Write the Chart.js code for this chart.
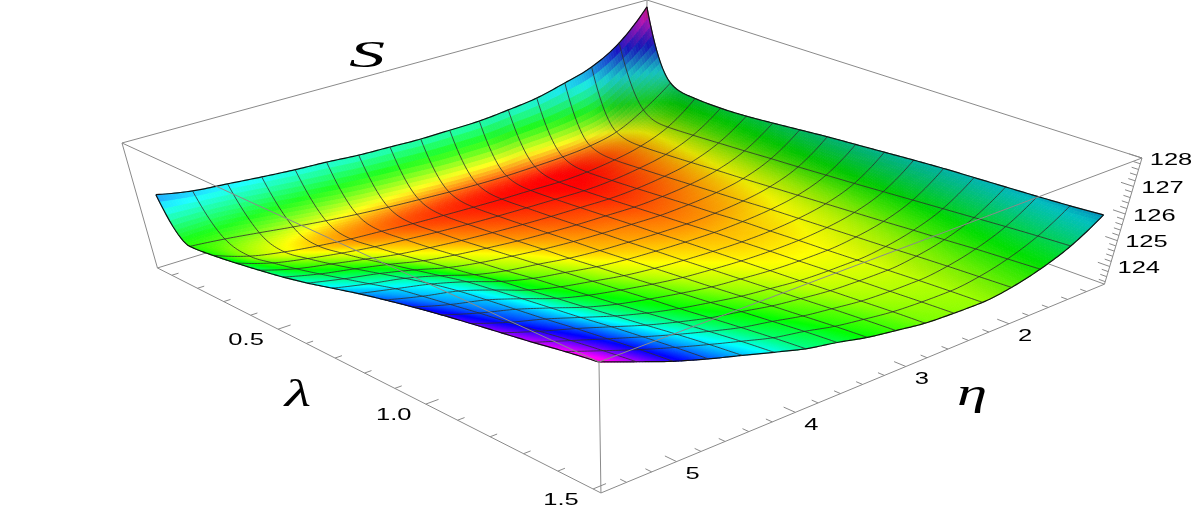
<!DOCTYPE html>
<html>
<head>
<meta charset="utf-8">
<title>S(lambda, eta)</title>
<script src="https://cdn.jsdelivr.net/npm/chart.js@4"></script>
<style>
  html, body { margin: 0; padding: 0; background: #fff; overflow: hidden; }
  canvas { display: block; }
</style>
</head>
<body>
<canvas id="surfaceChart" width="1196" height="510"></canvas>
<script>
// Surface: one row per eta value, one column per lambda value
const lambdaValues = [0.043, 0.132, 0.221, 0.311, 0.400, 0.489, 0.578, 0.667, 0.757, 0.846, 0.935, 1.024, 1.113, 1.203, 1.292, 1.381, 1.470];
const etaValues = [1.01, 1.29, 1.57, 1.84, 2.12, 2.40, 2.68, 2.96, 3.23, 3.51, 3.79, 4.07, 4.34, 4.62, 4.90, 5.18, 5.46];
const sValues = [
    [127.74, 125.10, 124.82, 124.79, 124.83, 124.92, 125.02, 125.12, 125.20, 125.28, 125.36, 125.43, 125.48, 125.53, 125.58, 125.64, 125.72],
    [126.66, 124.33, 123.99, 124.03, 124.09, 124.15, 124.22, 124.28, 124.35, 124.42, 124.50, 124.58, 124.66, 124.74, 124.82, 124.89, 124.95],
    [126.03, 123.76, 123.55, 123.59, 123.65, 123.72, 123.78, 123.85, 123.92, 123.99, 124.06, 124.13, 124.21, 124.28, 124.36, 124.42, 124.48],
    [125.71, 123.52, 123.32, 123.37, 123.43, 123.50, 123.57, 123.64, 123.72, 123.78, 123.84, 123.90, 123.96, 124.03, 124.09, 124.14, 124.19],
    [125.44, 123.42, 123.18, 123.23, 123.30, 123.38, 123.46, 123.53, 123.62, 123.67, 123.73, 123.78, 123.84, 123.90, 123.96, 124.01, 124.05],
    [125.30, 123.38, 123.13, 123.18, 123.25, 123.33, 123.41, 123.49, 123.58, 123.64, 123.71, 123.77, 123.84, 123.91, 123.97, 124.03, 124.08],
    [125.20, 123.36, 123.16, 123.21, 123.28, 123.36, 123.44, 123.51, 123.60, 123.67, 123.74, 123.81, 123.88, 123.96, 124.03, 124.10, 124.15],
    [125.18, 123.38, 123.18, 123.24, 123.31, 123.39, 123.48, 123.56, 123.65, 123.73, 123.82, 123.91, 124.00, 124.09, 124.18, 124.26, 124.33],
    [125.17, 123.43, 123.22, 123.28, 123.36, 123.45, 123.54, 123.62, 123.72, 123.82, 123.92, 124.02, 124.13, 124.24, 124.34, 124.44, 124.52],
    [125.21, 123.50, 123.27, 123.34, 123.43, 123.53, 123.64, 123.73, 123.85, 123.96, 124.09, 124.21, 124.33, 124.47, 124.59, 124.71, 124.80],
    [125.25, 123.58, 123.33, 123.42, 123.52, 123.65, 123.78, 123.91, 124.05, 124.17, 124.30, 124.43, 124.55, 124.69, 124.82, 124.94, 125.04],
    [125.34, 123.68, 123.42, 123.52, 123.64, 123.79, 123.94, 124.08, 124.25, 124.39, 124.54, 124.68, 124.83, 124.99, 125.14, 125.28, 125.39],
    [125.40, 123.80, 123.50, 123.63, 123.78, 123.97, 124.16, 124.34, 124.55, 124.69, 124.85, 125.00, 125.16, 125.32, 125.48, 125.62, 125.74],
    [125.49, 123.95, 123.63, 123.79, 124.00, 124.25, 124.49, 124.73, 124.97, 125.13, 125.28, 125.42, 125.56, 125.72, 125.86, 125.99, 126.10],
    [125.60, 124.12, 123.80, 123.99, 124.23, 124.50, 124.78, 125.06, 125.32, 125.53, 125.68, 125.82, 125.96, 126.12, 126.26, 126.39, 126.50],
    [125.71, 124.28, 124.05, 124.24, 124.47, 124.73, 125.01, 125.29, 125.58, 125.78, 125.96, 126.14, 126.30, 126.49, 126.67, 126.83, 126.97],
    [125.95, 124.40, 124.50, 124.66, 124.84, 125.04, 125.28, 125.56, 125.84, 126.09, 126.32, 126.53, 126.72, 126.90, 127.08, 127.28, 127.45]
];

const lambdaTicks = [0.5, 1.0, 1.5];
const etaTicks = [2, 3, 4, 5];
const sTicks = [124, 125, 126, 127, 128];
const lambdaMinorTicks = [0.1, 0.2, 0.3, 0.4, 0.6, 0.7, 0.8, 0.9, 1.1, 1.2, 1.3, 1.4];
const etaMinorTicks = [1.2, 1.4, 1.6, 1.8, 2.2, 2.4, 2.6, 2.8, 3.2, 3.4, 3.6, 3.8, 4.2, 4.4, 4.6, 4.8, 5.2, 5.4];
const sMinorTicks = [123.4, 123.6, 123.8, 124.2, 124.4, 124.6, 124.8, 125.2, 125.4, 125.6, 125.8, 126.2, 126.4, 126.6, 126.8, 127.2, 127.4, 127.6, 127.8];

// Box limits
const lambdaRange = [0.043, 1.522];
const etaRange = [1.01, 5.6];
const sRange = [123.3, 128];

// Hue follows the height of the surface
const hueHeights = [123.15, 123.77, 124.24, 125.18, 125.84, 127.44, 127.74];
const hueLevels = [0, 0.17, 0.28, 0.45, 0.56, 0.86, 0.95];

// Perspective camera, fitted to the corners of the box
const cameraX = [320.5, -541.62, 41, 647];
const cameraY = [133.86, 123.52, 125.6, 0];
const cameraW = [-0.1528, -0.1362, 0.0659, 1];

function project(lambda, eta, s) {
    const u = (lambda - lambdaRange[0]) / (lambdaRange[1] - lambdaRange[0]);
    const v = (eta - etaRange[0]) / (etaRange[1] - etaRange[0]);
    const t = (sRange[1] - s) / (sRange[1] - sRange[0]);
    const dot = (c) => c[0] * u + c[1] * v + c[2] * t + c[3];
    const w = dot(cameraW);
    return { x: dot(cameraX) / w, y: dot(cameraY) / w };
}

// Smooth curve between grid values, used only to draw the cells and mesh lines without corners
const SUB = 12;
function upsample(values) {
    const n = values.length - 1;
    const d = [];
    for (let k = 0; k < n; k++) d.push(values[k + 1] - values[k]);
    const m = new Array(n + 1).fill(0);
    for (let k = 1; k < n; k++) {
        if (d[k - 1] * d[k] > 0) {
            const limit = 3 * Math.min(Math.abs(d[k - 1]), Math.abs(d[k]));
            const avg = (d[k - 1] + d[k]) / 2;
            m[k] = Math.sign(avg) * Math.min(Math.abs(avg), limit);
        }
    }
    m[0] = 2 * d[0] - m[1];
    if (m[0] * d[0] < 0) m[0] = 0;
    m[n] = 2 * d[n - 1] - m[n - 1];
    if (m[n] * d[n - 1] < 0) m[n] = 0;
    const out = [];
    for (let k = 0; k < n; k++) {
        for (let q = 0; q < SUB; q++) {
            const a = q / SUB;
            const a2 = a * a, a3 = a2 * a;
            out.push((2 * a3 - 3 * a2 + 1) * values[k] + (a3 - 2 * a2 + a) * m[k] + (-2 * a3 + 3 * a2) * values[k + 1] + (a3 - a2) * m[k + 1]);
        }
    }
    out.push(values[n]);
    return out;
}

function linearUpsample(values) {
    const out = [];
    for (let k = 0; k < values.length - 1; k++) {
        for (let q = 0; q < SUB; q++) out.push(values[k] + (values[k + 1] - values[k]) * q / SUB);
    }
    out.push(values[values.length - 1]);
    return out;
}

const fineLambda = linearUpsample(lambdaValues);
const fineEta = linearUpsample(etaValues);

function buildFineGrid() {
    const rows = sValues.map(upsample);
    const grid = fineEta.map(() => []);
    for (let i = 0; i < fineLambda.length; i++) {
        const col = upsample(rows.map((r) => r[i]));
        col.forEach((s, j) => { grid[j][i] = s; });
    }
    return grid;
}
const fineS = buildFineGrid();

function hueFor(s) {
    if (s <= hueHeights[0]) return hueLevels[0];
    for (let k = 1; k < hueHeights.length; k++) {
        if (s <= hueHeights[k]) {
            const a = (s - hueHeights[k - 1]) / (hueHeights[k] - hueHeights[k - 1]);
            return hueLevels[k - 1] + a * (hueLevels[k] - hueLevels[k - 1]);
        }
    }
    return hueLevels[hueLevels.length - 1];
}

function hsvColor(h, sat, val) {
    const f = (n) => {
        const k = (n + h * 6) % 6;
        return Math.round(255 * val * (1 - sat * Math.max(0, Math.min(k, 4 - k, 1))));
    };
    return `rgb(${f(5)},${f(3)},${f(1)})`;
}

// Light: slopes falling along eta look darker, slopes falling along lambda look paler
function cellColor(i, j) {
    const s = (fineS[j][i] + fineS[j + 1][i] + fineS[j][i + 1] + fineS[j + 1][i + 1]) / 4;
    const slopeEta = ((fineS[j + 1][i] + fineS[j + 1][i + 1]) - (fineS[j][i] + fineS[j][i + 1])) / 2 * SUB;
    const slopeLambda = ((fineS[j][i + 1] + fineS[j + 1][i + 1]) - (fineS[j][i] + fineS[j + 1][i])) / 2 * SUB;
    const val = 1 - 0.3 * Math.min(1, Math.max(0, -slopeEta));
    const sat = 1 - 0.12 * Math.min(1, Math.max(0, -slopeLambda / 1.2));
    return hsvColor(hueFor(s), sat, val);
}

// Cells go under the mesh, over the hidden back edges of the box
const surfacePlugin = {
    id: 'surface',
    beforeDatasetDraw(chart, args) {
        if (chart.data.datasets[args.index].label !== 'surfaceStart') return;
        const ctx = chart.ctx;
        const xs = chart.scales.x;
        const ys = chart.scales.y;
        const pixel = (i, j) => {
            const p = project(fineLambda[i], fineEta[j], fineS[j][i]);
            return [xs.getPixelForValue(p.x), ys.getPixelForValue(p.y)];
        };
        ctx.save();
        ctx.lineWidth = 0.8;
        for (let i = 0; i < fineLambda.length - 1; i++) {
            for (let j = 0; j < fineEta.length - 1; j++) {
                const color = cellColor(i, j);
                const a = pixel(i, j), b = pixel(i + 1, j), c = pixel(i + 1, j + 1), d = pixel(i, j + 1);
                ctx.beginPath();
                ctx.moveTo(a[0], a[1]);
                ctx.lineTo(b[0], b[1]);
                ctx.lineTo(c[0], c[1]);
                ctx.lineTo(d[0], d[1]);
                ctx.closePath();
                ctx.fillStyle = color;
                ctx.strokeStyle = color;
                ctx.fill();
                ctx.stroke();
            }
        }
        ctx.restore();
    }
};

function stretchedText(ctx, text, x, y, font, stretch) {
    ctx.save();
    ctx.translate(x, y);
    ctx.scale(stretch, 1);
    ctx.font = font;
    ctx.fillStyle = '#000';
    ctx.textAlign = 'center';
    ctx.textBaseline = 'middle';
    ctx.fillText(text, 0, 0);
    ctx.restore();
}

const labelsPlugin = {
    id: 'axisLabels',
    afterDraw(chart) {
        const ctx = chart.ctx;
        const xs = chart.scales.x;
        const ys = chart.scales.y;
        const tickFont = '17px "Liberation Sans"';
        const put = (p, dx, dy, text) => stretchedText(ctx, text, xs.getPixelForValue(p.x) + dx, ys.getPixelForValue(p.y) + dy, tickFont, 1.5);
        lambdaTicks.forEach((l) => put(project(l, etaRange[1], sRange[0]), -32, 11, l.toFixed(1)));
        etaTicks.forEach((e) => put(project(lambdaRange[1], e, sRange[0]), 16, 13, String(e)));
        sTicks.forEach((s) => put(project(lambdaRange[1], etaRange[0], s), 29, 2, String(s)));
        stretchedText(ctx, 'λ', 298, 396, 'italic 38px "Liberation Serif"', 1.6);
        stretchedText(ctx, 'η', 972, 395, 'italic 38px "Liberation Serif"', 1.6);
        stretchedText(ctx, 'S', 367, 57, 'italic 38px "Liberation Serif"', 1.9);
    }
};

function lineDataset(label, points, color, width, order) {
    return { label, data: points, borderColor: color, borderWidth: width, pointRadius: 0, tension: 0, fill: false, order, spanGaps: false, showLine: true };
}

function boxEdge(a, b) {
    const p = (c) => project(lambdaRange[c[0]], etaRange[c[1]], sRange[c[2]]);
    return [p(a), p(b)];
}

const boxColor = '#8a8a8a';
const meshColor = 'rgba(45,45,45,0.8)';
const datasets = [];

// Box edges in front of the surface ([lambda end, eta end, height end], 1 is the top for height)
[
    [[0, 0, 1], [1, 0, 1]], [[0, 0, 1], [0, 1, 1]], [[1, 0, 1], [1, 1, 1]], [[0, 1, 1], [1, 1, 1]],
    [[1, 1, 0], [1, 1, 1]], [[0, 1, 0], [1, 1, 0]], [[1, 0, 0], [1, 1, 0]],
    [[0, 1, 0], [0, 1, 1]], [[1, 0, 0], [1, 0, 1]]
].forEach((e, k) => datasets.push(lineDataset('box' + k, boxEdge(e[0], e[1]), boxColor, 1, 1)));

// Tick marks on the box edges
function tickLines(values, from, to) {
    const pts = [];
    values.forEach((val) => { pts.push(from(val), to(val), { x: NaN, y: NaN }); });
    return pts;
}
const majorLen = 0.022, minorLen = 0.012;
const lambdaSpan = lambdaRange[1] - lambdaRange[0];
const etaSpan = etaRange[1] - etaRange[0];
const lambdaTick = (len) => (l) => project(l, etaRange[1] - etaSpan * len, sRange[0]);
const etaTick = (len) => (e) => project(lambdaRange[1] - lambdaSpan * len, e, sRange[0]);
const sTick = (len) => (s) => project(lambdaRange[1] - lambdaSpan * len, etaRange[0], s);
datasets.push(lineDataset('lambdaTicks', tickLines(lambdaTicks, lambdaTick(0), lambdaTick(majorLen)), boxColor, 1, 1));
datasets.push(lineDataset('lambdaMinor', tickLines(lambdaMinorTicks, lambdaTick(0), lambdaTick(minorLen)), boxColor, 1, 1));
datasets.push(lineDataset('etaTicks', tickLines(etaTicks, etaTick(0), etaTick(majorLen)), boxColor, 1, 1));
datasets.push(lineDataset('etaMinor', tickLines(etaMinorTicks, etaTick(0), etaTick(minorLen)), boxColor, 1, 1));
datasets.push(lineDataset('sTicks', tickLines(sTicks, sTick(0), sTick(majorLen)), boxColor, 1, 1));
datasets.push(lineDataset('sMinor', tickLines(sMinorTicks, sTick(0), sTick(minorLen)), boxColor, 1, 1));

// Mesh lines, one per grid value
etaValues.forEach((eta, j) => {
    const pts = fineLambda.map((l, i) => project(l, fineEta[j * SUB], fineS[j * SUB][i]));
    const edge = j === 0 || j === etaValues.length - 1;
    datasets.push(lineDataset('etaLine' + j, pts, edge ? '#111' : meshColor, edge ? 1.2 : 1, 2));
});
lambdaValues.forEach((lambda, i) => {
    const pts = fineEta.map((e, j) => project(fineLambda[i * SUB], e, fineS[j][i * SUB]));
    const edge = i === 0 || i === lambdaValues.length - 1;
    datasets.push(lineDataset('lambdaLine' + i, pts, edge ? '#111' : meshColor, edge ? 1.2 : 1, 2));
});

// Painted before the mesh: the cells are drawn just before this empty dataset
datasets.push(lineDataset('surfaceStart', [], meshColor, 1, 3));

// Box edges behind the surface
datasets.push(lineDataset('backVertical', boxEdge([0, 0, 0], [0, 0, 1]), boxColor, 1, 4));
datasets.push(lineDataset('backBottomA', boxEdge([0, 0, 0], [1, 0, 0]), boxColor, 1, 4));
datasets.push(lineDataset('backBottomB', boxEdge([0, 0, 0], [0, 1, 0]), boxColor, 1, 4));

new Chart(document.getElementById('surfaceChart').getContext('2d'), {
    type: 'scatter',
    data: { datasets },
    plugins: [surfacePlugin, labelsPlugin],
    options: {
        responsive: false,
        animation: false,
        layout: { padding: 0 },
        plugins: { legend: { display: false }, tooltip: { enabled: false } },
        scales: {
            x: { type: 'linear', min: 0, max: 1196, display: false },
            y: { type: 'linear', min: 0, max: 510, reverse: true, display: false }
        }
    }
});
</script>
</body>
</html>
